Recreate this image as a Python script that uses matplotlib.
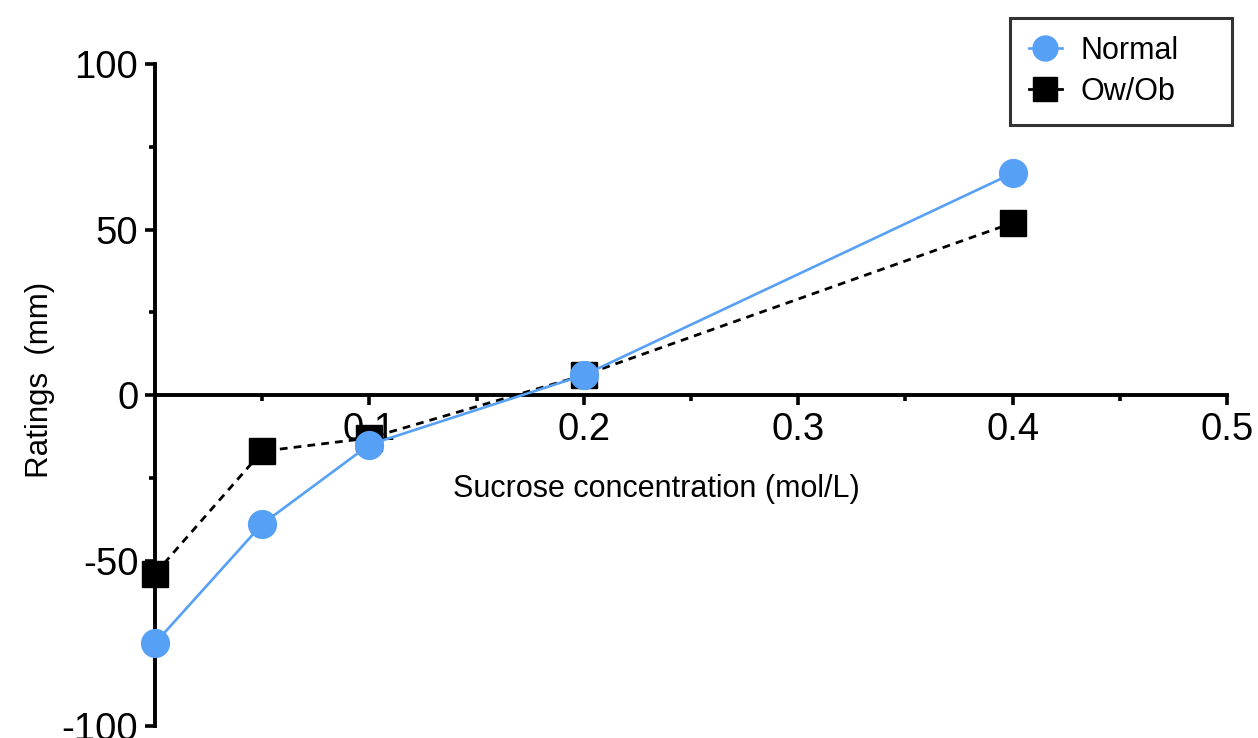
import matplotlib
matplotlib.use("Agg")
import matplotlib.pyplot as plt
from matplotlib.ticker import FixedLocator

plt.rcParams['font.family'] = ['Liberation Sans', 'DejaVu Sans']
plt.rcParams['axes.unicode_minus'] = False

concentration = [0.0, 0.05, 0.1, 0.2, 0.4]
normal = [-75, -39, -15, 6, 67]
ow_ob = [-54, -17, -13, 6, 52]

x_major = [0.1, 0.2, 0.3, 0.4, 0.5]
x_minor = [0.05, 0.15, 0.25, 0.35, 0.45]
y_major = [-100, -50, 0, 50, 100]
y_minor = [-75, -25, 25, 75]

fig = plt.figure(figsize=(12.58, 7.38), dpi=100)
ax = fig.add_axes([0.1232, 0.01626, 0.8522, 0.897])

l2, = ax.plot(concentration, ow_ob, color='black', linestyle=(0, (2.8, 2.2)), linewidth=2.0,
              marker='s', markersize=19, label='Ow/Ob', clip_on=False, zorder=3)
l1, = ax.plot(concentration, normal, color='#56a0f5', linestyle='-', linewidth=1.9,
              marker='o', markersize=20, label='Normal', clip_on=False, zorder=4)

ax.set_xlim(0, 0.5)
ax.set_ylim(-100, 100)

ax.spines['top'].set_visible(False)
ax.spines['right'].set_visible(False)
ax.spines['bottom'].set_position(('data', 0))
ax.spines['left'].set_linewidth(2.8)
ax.spines['bottom'].set_linewidth(2.8)

ax.xaxis.set_major_locator(FixedLocator(x_major))
ax.xaxis.set_minor_locator(FixedLocator(x_minor))
ax.set_xticklabels([f"{v:g}" for v in x_major])
ax.yaxis.set_major_locator(FixedLocator(y_major))
ax.yaxis.set_minor_locator(FixedLocator(y_minor))
ax.set_yticklabels([f"{v:d}" for v in y_major])

ax.tick_params(axis='both', which='major', direction='out', length=7, width=2.6,
               labelsize=27.5, pad=5)
ax.tick_params(axis='both', which='minor', direction='out', length=4, width=2.6)

ax.set_xlabel('Sucrose concentration (mol/L)', fontsize=22)
ax.xaxis.set_label_coords(0.468, 0.38)
ax.set_ylabel('Ratings  (mm)', fontsize=22.5, ha='center', va='center')
ax.yaxis.set_label_coords(-0.107, 0.523)

leg = fig.legend(handles=[l1, l2], labels=['Normal', 'Ow/Ob'], loc='upper left',
                 bbox_to_anchor=(0.803, 0.831, 0.176, 0.145), mode='expand',
                 bbox_transform=fig.transFigure,
                 fontsize=22, frameon=True, fancybox=False, edgecolor='black',
                 handlelength=1.1, markerscale=0.9, borderaxespad=0,
                 borderpad=0.6, labelspacing=0.35, handletextpad=0.6)
leg.get_frame().set_linewidth(2.2)
for h in leg.legend_handles:
    h.set_linestyle('-')

fig.savefig('out.png', dpi=100)
